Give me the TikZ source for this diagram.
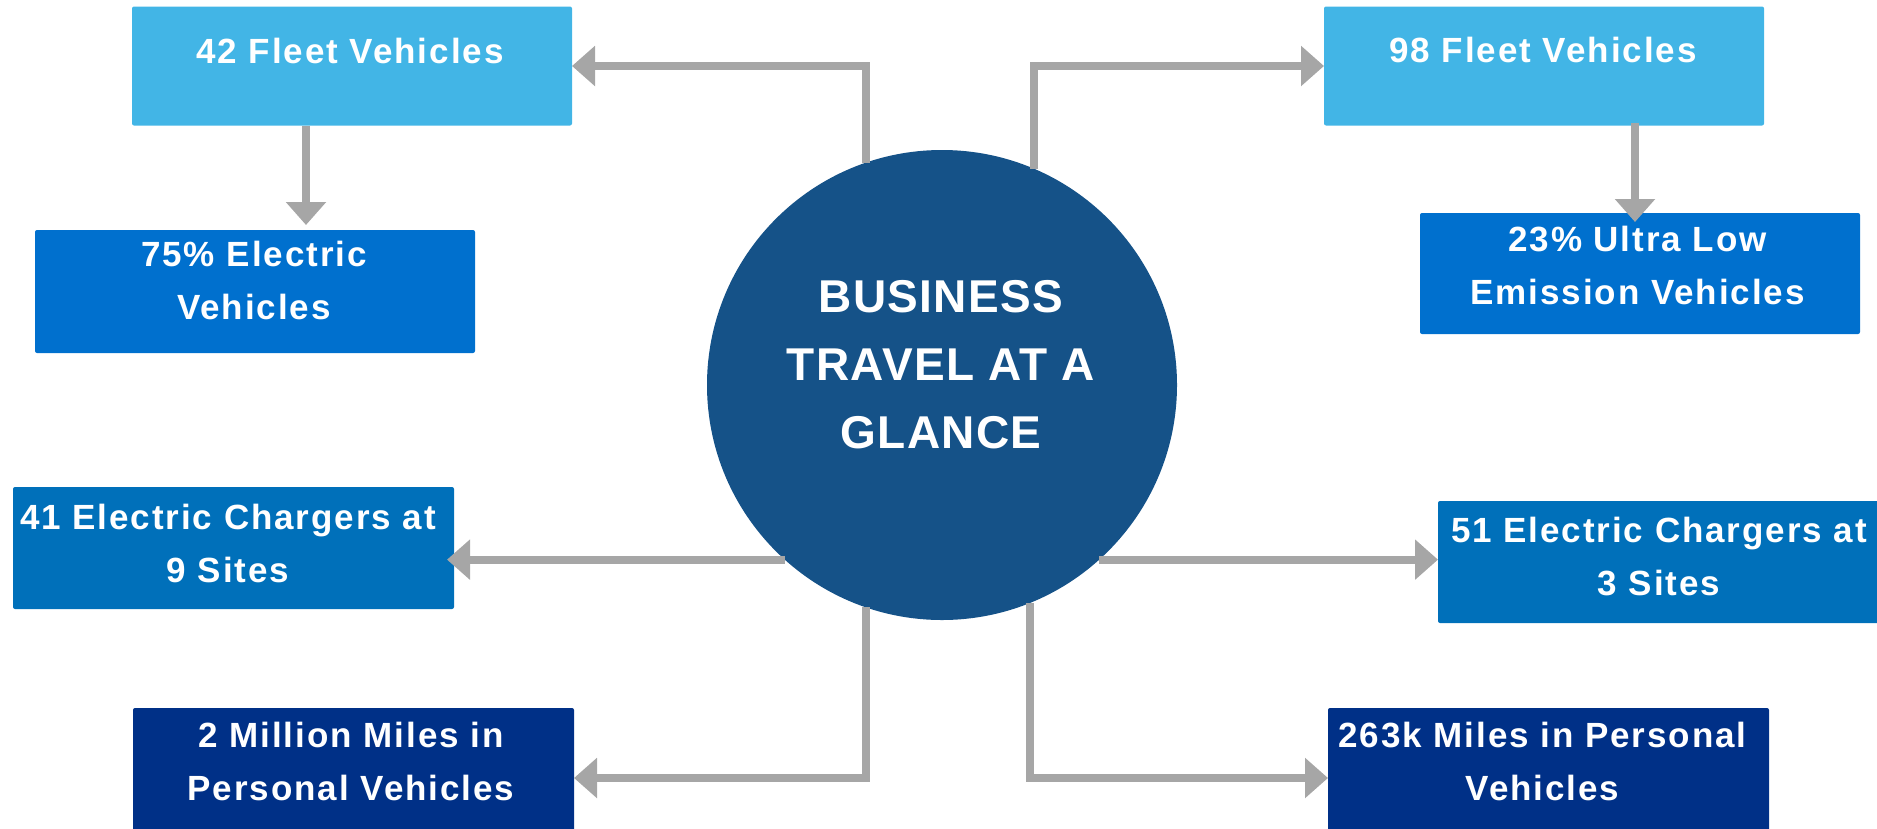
\documentclass[tikz,border=0pt]{standalone}
\usepackage{fontspec}
\newfontfamily\boxfont[LetterSpace=5.5]{Liberation Sans}
\newfontfamily\circfont[LetterSpace=3]{Liberation Sans}
\usetikzlibrary{arrows.meta,calc}
\definecolor{lightb}{HTML}{42B5E6}
\definecolor{midb}{HTML}{0070CE}
\definecolor{chgb}{HTML}{0070BA}
\definecolor{navyb}{HTML}{003087}
\definecolor{circb}{HTML}{155288}
\definecolor{conng}{HTML}{A6A6A6}
\tikzset{
  boxnode/.style={rectangle, rounded corners=2pt, inner sep=0pt, outer sep=0pt, draw=none},
  txt/.style={text=white, align=center, anchor=base, inner sep=0pt, font=\boxfont\bfseries\fontsize{35}{53}\selectfont},
  conn/.style={draw=conng, line width=8pt, -{Triangle[width=39pt,length=23pt]}},
}
\begin{document}
\begin{tikzpicture}[x=1pt,y=-1pt]
\useasboundingbox (0,0) rectangle (1877,828);
% centre
\node[circle, minimum size=470pt, inner sep=0pt, outer sep=0pt, fill=circb] (c) at (942,385) {};
\node[text=white, align=center, anchor=base, inner sep=0pt, font=\circfont\bfseries\fontsize{46}{68}\selectfont] (ct) at (941,448) {BUSINESS\\TRAVEL AT A\\GLANCE};
% boxes
\node[boxnode, fill=lightb, minimum width=440pt, minimum height=119pt] (b1) at (352,66) {};
\node[boxnode, fill=midb, minimum width=440pt, minimum height=123pt] (b2) at (255,291.5) {};
\node[boxnode, fill=lightb, minimum width=440pt, minimum height=119pt] (b3) at (1544,66) {};
\node[boxnode, fill=midb, minimum width=440pt, minimum height=121pt] (b4) at (1640,273.5) {};
\node[boxnode, fill=chgb, minimum width=441pt, minimum height=122pt] (b5) at (233.5,548) {};
\node[boxnode, fill=chgb, minimum width=442pt, minimum height=122pt] (b6) at (1659,562) {};
\node[boxnode, fill=navyb, minimum width=441pt, minimum height=140pt] (b7) at (353.5,778) {};
\node[boxnode, fill=navyb, minimum width=441pt, minimum height=140pt] (b8) at (1548.5,778) {};
% texts (anchored at the baseline of the last line)
\node[txt] (t1) at (350,63) {42 Fleet Vehicles};
\node[txt] (t2) at (254,319) {75\% Electric\\Vehicles};
\node[txt] (t3) at (1543,62) {98 Fleet Vehicles};
\node[txt] (t4) at (1637.5,304) {23\% Ultra Low\\Emission Vehicles};
\node[txt] (t5) at (228,582) {41 Electric Chargers at\\9 Sites};
\node[txt] (t6) at (1659,595) {51 Electric Chargers at\\3 Sites};
\node[txt] (t7) at (351,800) {2 Million Miles in\\Personal Vehicles};
\node[txt] (t8) at (1542.5,800) {263k Miles in Personal\\Vehicles};
% connectors
\draw[conn] (c.109.4) |- (b1.east);
\draw[conn] (c.67.7) |- (b3.west);
\draw[conn] (c.-109.4) |- (b7.east);
\draw[conn] (c.-68.8) |- (b8.west);
\draw[conn, shorten >=-7pt] (c.228.9) -- (c.228.9 -| b5.east);
\draw[conn] (c.-48.9) -- (c.-48.9 -| b6.west);
\coordinate (a1) at ([xshift=-46pt]b1.south);
\draw[conn, shorten >=5pt] (a1) -- (a1 |- b2.north);
\coordinate (a2) at ([xshift=91pt,yshift=3pt]b3.south);
\draw[conn, shorten >=-9pt] (a2) -- (a2 |- b4.north);
\end{tikzpicture}
\end{document}
